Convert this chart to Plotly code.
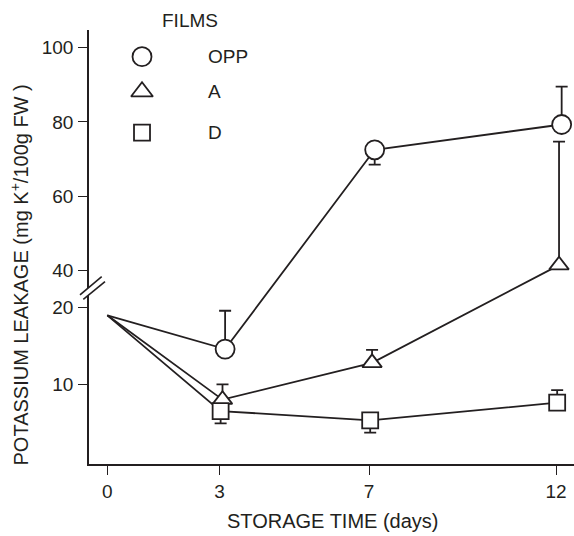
import numpy as np
import plotly.graph_objects as go

# ---- data -------------------------------------------------------------
days = [0, 3, 7, 12]
series_names = ["OPP", "A", "D"]

opp = [19.0, 14.6, 72.5, 79.3]
opp_err_up = [np.nan, 5.0, 0.0, 10.2]
opp_err_down = [np.nan, 0.0, 4.0, 0.0]

film_a = [19.0, 8.0, 12.8, 41.5]
film_a_err_up = [np.nan, 2.0, 1.7, 33.2]
film_a_err_down = [np.nan, 0.0, 0.0, 0.0]

film_d = [19.0, 6.5, 5.3, 7.6]
film_d_err_up = [np.nan, 0.0, 0.0, 1.65]
film_d_err_down = [np.nan, 1.6, 1.6, 0.0]

y_tick_values = [10, 20, 40, 60, 80, 100]
x_tick_values = [0, 3, 7, 12]

# ---- broken y scale: 0-20 stretched, 40-100 compressed ------------------
BREAK_IN = [0.0, 20.0, 40.0, 100.0, 200.0]
BREAK_OUT = [0.0, 20.0, 24.83, 24.83 + 60 * 0.4856, 24.83 + 160 * 0.4856]


def to_axis(v):
    return np.interp(np.asarray(v, dtype=float), BREAK_IN, BREAK_OUT)


Y_RANGE = [-0.405, 56.25]
X_RANGE = [-0.49, 12.48]

INK = "#231f20"
FONT = "Liberation Sans, Arial, sans-serif"

styles = {
    "OPP": dict(symbol="circle", size=19, dodge=0.15),
    "A": dict(symbol="triangle-up", size=17, dodge=0.08),
    "D": dict(symbol="square", size=16, dodge=0.03),
}
values = {
    "OPP": (opp, opp_err_up, opp_err_down),
    "A": (film_a, film_a_err_up, film_a_err_down),
    "D": (film_d, film_d_err_up, film_d_err_down),
}

fig = go.Figure()


def x_positions(name):
    d = styles[name]["dodge"]
    return [t + (d if t > 0 else 0.0) for t in days]


# connecting lines first so every open marker sits on top of them
for name in series_names:
    y = to_axis(values[name][0])
    fig.add_trace(go.Scatter(
        x=x_positions(name), y=y, mode="lines",
        line=dict(color=INK, width=1.8),
        showlegend=False, hoverinfo="skip", cliponaxis=False,
    ))

# markers with one-sided error bars (no marker at day 0)
for name in series_names:
    v, up, down = (np.asarray(a, dtype=float) for a in values[name])
    y = to_axis(v)
    e_up = to_axis(v + np.nan_to_num(up)) - y
    e_dn = y - to_axis(v - np.nan_to_num(down))
    mask = ~np.isnan(up)
    xs = np.asarray(x_positions(name))[mask]
    fig.add_trace(go.Scatter(
        x=xs, y=y[mask], mode="markers", name=name,
        marker=dict(symbol=styles[name]["symbol"], size=styles[name]["size"],
                    color="white", line=dict(color=INK, width=1.8)),
        error_y=dict(type="data", symmetric=False,
                     array=e_up[mask], arrayminus=e_dn[mask],
                     color=INK, thickness=1.8, width=6),
        showlegend=False, cliponaxis=False,
    ))

# legend keys drawn on an overlay axis pair in plot-fraction units
legend_y = [0.9385, 0.8578, 0.7634]
for name, ly in zip(series_names, legend_y):
    fig.add_trace(go.Scatter(
        x=[0.1093], y=[ly], xaxis="x2", yaxis="y2", mode="markers",
        marker=dict(symbol=styles[name]["symbol"],
                    size=styles[name]["size"] + (2 if name == "A" else 0),
                    color="white", line=dict(color=INK, width=1.8)),
        showlegend=False, hoverinfo="skip", cliponaxis=False,
    ))

annotations = [
    dict(text="FILMS", x=0.208, y=1.0213, xref="paper", yref="paper",
         xanchor="center", yanchor="middle", showarrow=False,
         font=dict(size=19, color=INK, family=FONT)),
    dict(text="POTASSIUM LEAKAGE (mg K<sup>+</sup>/100g FW )",
         x=-0.1433, y=0.4355, xref="paper", yref="paper", textangle=-90,
         xanchor="center", yanchor="middle", showarrow=False,
         font=dict(size=20, color=INK, family=FONT)),
    dict(text="STORAGE TIME (days)", x=0.503, y=-0.1313,
         xref="paper", yref="paper", xanchor="center", yanchor="middle",
         showarrow=False, font=dict(size=20, color=INK, family=FONT)),
]
for name, ly in zip(series_names, legend_y):
    annotations.append(dict(
        text=name, x=0.2412, y=ly, xref="paper", yref="paper",
        xanchor="left", yanchor="middle", showarrow=False,
        font=dict(size=19, color=INK, family=FONT)))

# axis-break slashes across the y axis between 20 and 40
brk_y = (22.55 - Y_RANGE[0]) / (Y_RANGE[1] - Y_RANGE[0])
brk_common = dict(xref="paper", yref="paper", xsizemode="pixel",
                  ysizemode="pixel", xanchor=0.0072, yanchor=brk_y,
                  layer="above")
shapes = [
    dict(type="path", path="M-12.5,-6.8 L9.2,11.5 L12.5,6.5 L-9.2,-11.1 Z",
         fillcolor="white", line=dict(width=0), **brk_common),
    dict(type="line", x0=-12.5, y0=-6.8, x1=9.2, y1=11.5,
         line=dict(color=INK, width=1.6), **brk_common),
    dict(type="line", x0=-9.2, y0=-11.1, x1=12.5, y1=6.5,
         line=dict(color=INK, width=1.6), **brk_common),
]

fig.update_layout(
    width=574, height=536,
    margin=dict(l=89, r=0, t=30, b=72, pad=0),
    paper_bgcolor="white", plot_bgcolor="white",
    font=dict(family=FONT, size=19, color=INK),
    xaxis=dict(range=X_RANGE, tickmode="array", tickvals=x_tick_values,
               ticktext=[str(t) for t in x_tick_values],
               tickfont=dict(size=19),
               showline=True, linecolor=INK, linewidth=1.6,
               ticks="outside", ticklen=9, tickwidth=1.4, tickcolor=INK,
               ticklabelstandoff=0,
               showgrid=False, zeroline=False, fixedrange=True),
    yaxis=dict(range=Y_RANGE, tickmode="array",
               tickvals=to_axis(y_tick_values).tolist(),
               ticktext=[str(t) for t in y_tick_values],
               tickfont=dict(size=19),
               showline=True, linecolor=INK, linewidth=1.6,
               ticks="outside", ticklen=9, tickwidth=1.4, tickcolor=INK,
               ticklabelstandoff=1,
               showgrid=False, zeroline=False, fixedrange=True),
    xaxis2=dict(overlaying="x", range=[0, 1], visible=False),
    yaxis2=dict(overlaying="y", range=[0, 1], visible=False),
    annotations=annotations,
    shapes=shapes,
)

fig.write_html("out.html")
